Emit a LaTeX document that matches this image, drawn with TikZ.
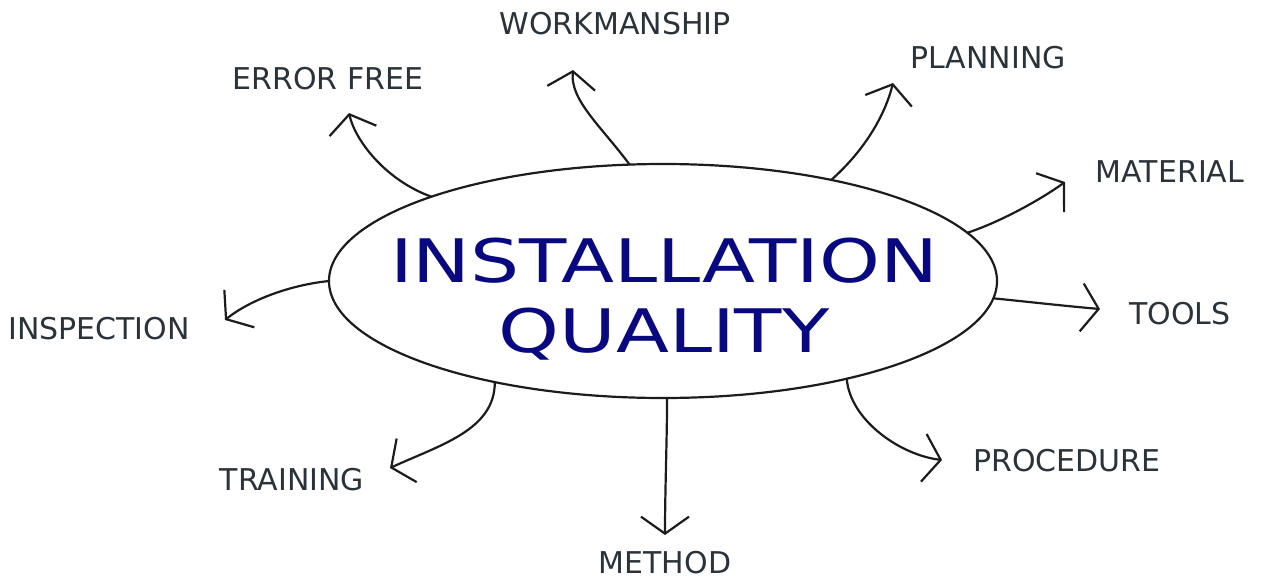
\documentclass[tikz,border=0pt]{standalone}
\usepackage{fontspec}
\setmainfont{DejaVu Sans}
\newfontfamily\titlefont[FakeStretch=1.29]{DejaVu Sans}
\usetikzlibrary{shapes.geometric,arrows.meta}
\definecolor{inkline}{RGB}{28,28,30}
\definecolor{labelgray}{RGB}{42,50,58}
\definecolor{titlenavy}{RGB}{8,8,128}
\tikzset{
  arr/.style={draw=inkline, line width=2.2pt, line cap=round,
    -{Straight Barb[length=17pt,width=48pt,line width=2.2pt]}},
  lbl/.style={text=labelgray, font=\fontsize{30}{34}\selectfont, inner sep=0pt},
  bubble/.style={ellipse, draw=inkline, line width=2.2pt, minimum width=668pt,
    minimum height=234pt, inner sep=0pt, outer sep=0pt},
}
\begin{document}
\begin{tikzpicture}[x=1pt,y=-1pt]
\useasboundingbox (0,0) rectangle (1263,581);
\node[bubble] (ell) at (663,281) {};
\node[text=titlenavy, font=\titlefont\fontsize{60}{70}\selectfont, align=center, inner sep=0pt] (title) at (664,299) {INSTALLATION\\QUALITY};

\node[lbl] (workmanship) at (615,24) {WORKMANSHIP};
\node[lbl] (errorfree) at (328,79) {ERROR FREE};
\node[lbl] (planning) at (988,58) {PLANNING};
\node[lbl] (material) at (1170,172) {MATERIAL};
\node[lbl] (tools) at (1180,314) {TOOLS};
\node[lbl] (procedure) at (1067,461) {PROCEDURE};
\node[lbl] (method) at (665,563) {METHOD};
\node[lbl] (training) at (292,480) {TRAINING};
\node[lbl] (inspection) at (99,329) {INSPECTION};

\coordinate (tEF) at (349,113);
\coordinate (tWM) at (573,70);
\coordinate (tPL) at (893,83);
\coordinate (tMA) at (1065,182);
\coordinate (tTO) at (1100,309);
\coordinate (tPR) at (942,460);
\coordinate (tME) at (665,535);
\coordinate (tTR) at (390,468);
\coordinate (tIN) at (225,320);

\draw[arr] (ell.160.5) .. controls (385,180) and (355,140) .. (tEF);
\draw[arr] (ell.106.5) .. controls (600,125) and (570,100) .. (tWM);
\draw[arr] (ell.31.7) .. controls (865,150) and (885,115) .. (tPL);
\draw[arr] (ell.9.5) .. controls (1000,222) and (1040,200) .. (tMA);
\draw[arr] (ell.-3.3) .. controls (1030,302) and (1065,306) .. (tTO);
\draw[arr] (ell.-28.3) .. controls (850,420) and (900,455) .. (tPR);
\draw[arr] (ell.-88) .. controls (667,440) and (665,490) .. (tME);
\draw[arr] (ell.211.6) .. controls (495,430) and (440,445) .. (tTR);
\draw[arr] (ell.180.3) .. controls (290,285) and (250,300) .. (tIN);
\end{tikzpicture}
\end{document}
